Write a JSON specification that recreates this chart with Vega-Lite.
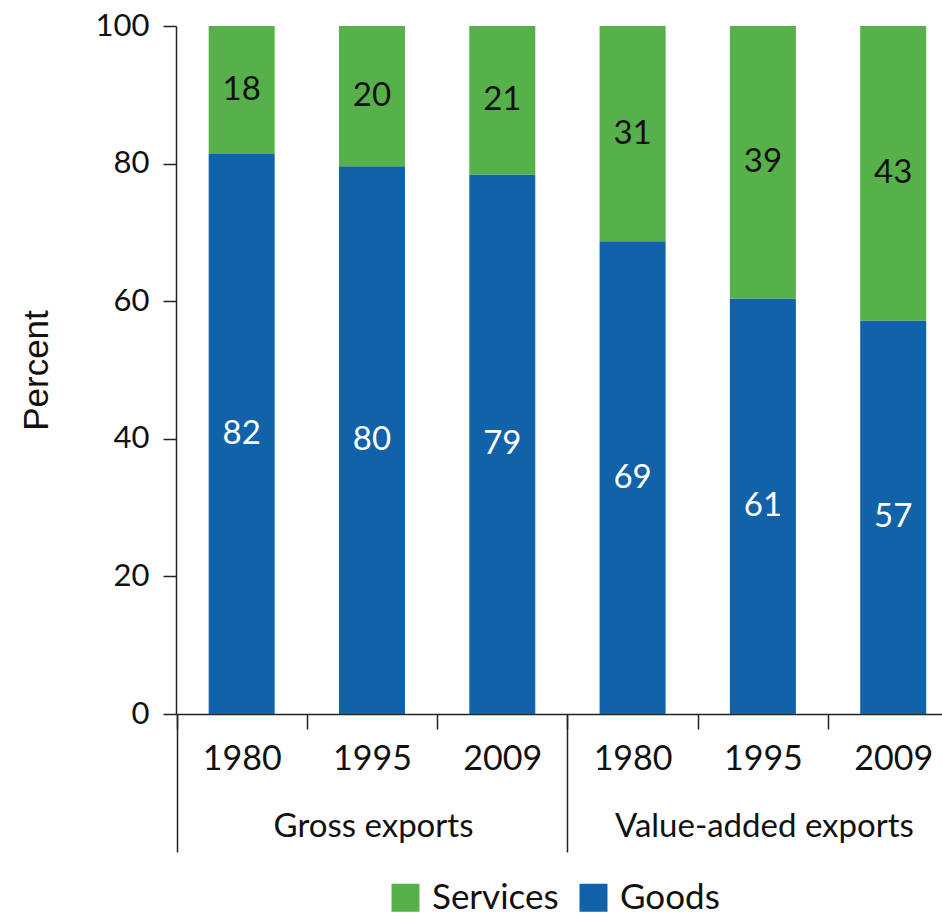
{
  "$schema": "https://vega.github.io/schema/vega-lite/v6.json",
  "autosize": {"type": "none"},
  "width": 766,
  "height": 688,
  "padding": {"left": 176, "top": 26, "right": 0, "bottom": 203},
  "config": {
    "font": "Lato",
    "view": {"stroke": null},
    "axis": {"grid": false, "domainColor": "#222", "tickColor": "#222", "domainWidth": 1.5, "tickWidth": 1.5, "labelColor": "#111", "titleColor": "#111", "labelFont": "Lato"}
  },
  "data": {
    "values": [
      {"bar": "Gross exports|1980", "type": "Goods", "value": 81.4, "label": "82"},
      {"bar": "Gross exports|1980", "type": "Services", "value": 18.6, "label": "18"},
      {"bar": "Gross exports|1995", "type": "Goods", "value": 79.6, "label": "80"},
      {"bar": "Gross exports|1995", "type": "Services", "value": 20.4, "label": "20"},
      {"bar": "Gross exports|2009", "type": "Goods", "value": 78.4, "label": "79"},
      {"bar": "Gross exports|2009", "type": "Services", "value": 21.6, "label": "21"},
      {"bar": "Value-added exports|1980", "type": "Goods", "value": 68.7, "label": "69"},
      {"bar": "Value-added exports|1980", "type": "Services", "value": 31.3, "label": "31"},
      {"bar": "Value-added exports|1995", "type": "Goods", "value": 60.4, "label": "61"},
      {"bar": "Value-added exports|1995", "type": "Services", "value": 39.6, "label": "39"},
      {"bar": "Value-added exports|2009", "type": "Goods", "value": 57.2, "label": "57"},
      {"bar": "Value-added exports|2009", "type": "Services", "value": 42.8, "label": "43"}
    ]
  },
  "layer": [
    {
      "mark": {"type": "bar", "stroke": null},
      "encoding": {
        "x": {
          "field": "bar", "type": "nominal",
          "sort": ["Gross exports|1980", "Gross exports|1995", "Gross exports|2009", "Value-added exports|1980", "Value-added exports|1995", "Value-added exports|2009"],
          "scale": {"paddingInner": 0.4935, "paddingOuter": 0.186, "align": 0.674},
          "axis": {"orient": "bottom", "title": null, "tickOffset": -65.15, "labelOffset": 65.15, "tickSize": 15, "labelPadding": 13, "labelAngle": 0, "labelFontSize": 34, "labelExpr": "split(datum.value, '|')[1]"}
        },
        "y": {
          "field": "value", "type": "quantitative", "stack": "zero",
          "scale": {"domain": [0, 100], "nice": false},
          "axis": {"title": "Percent", "values": [0, 20, 40, 60, 80, 100], "tickSize": 13, "labelPadding": 14, "labelFontSize": 31, "titleFont": "Liberation Sans", "titleFontSize": 35, "titleFontWeight": "normal", "titlePadding": 41}
        },
        "order": {"field": "type", "sort": "ascending"},
        "color": {
          "field": "type", "type": "nominal",
          "scale": {"domain": ["Services", "Goods"], "range": ["#57b14a", "#1262a9"]},
          "legend": {"orient": "none", "legendX": 212, "legendY": 854, "direction": "horizontal", "title": null, "symbolType": "square", "symbolSize": 784, "symbolStrokeWidth": 0, "symbolOpacity": 1, "labelFontSize": 35, "labelColor": "#111", "labelOffset": 9, "columnPadding": 17, "padding": 0, "labelLimit": 400}
        }
      }
    },
    {
      "transform": [
        {"stack": "value", "groupby": ["bar"], "sort": [{"field": "type", "order": "ascending"}], "as": ["v0", "v1"]},
        {"calculate": "(datum.v0 + datum.v1) / 2", "as": "mid"}
      ],
      "mark": {"type": "text", "fontSize": 33, "baseline": "middle", "align": "center"},
      "encoding": {
        "x": {
          "field": "bar", "type": "nominal",
          "sort": ["Gross exports|1980", "Gross exports|1995", "Gross exports|2009", "Value-added exports|1980", "Value-added exports|1995", "Value-added exports|2009"],
          "axis": {"orient": "bottom", "title": null, "domain": false, "values": ["Gross exports|1980", "Value-added exports|1980"], "bandPosition": 0, "tickOffset": -32.15, "tickSize": 138, "labelOffset": 163.5, "labelPadding": -42, "labelAngle": 0, "labelFontSize": 33, "labelAlign": "center", "labelLimit": 500, "labelExpr": "split(datum.value, '|')[0]"}
        },
        "y": {"field": "mid", "type": "quantitative", "axis": null},
        "text": {"field": "label"},
        "color": {"condition": {"test": "datum.type === 'Goods'", "value": "white"}, "value": "#111"}
      }
    }
  ],
  "resolve": {"axis": {"x": "independent", "y": "independent"}}
}
